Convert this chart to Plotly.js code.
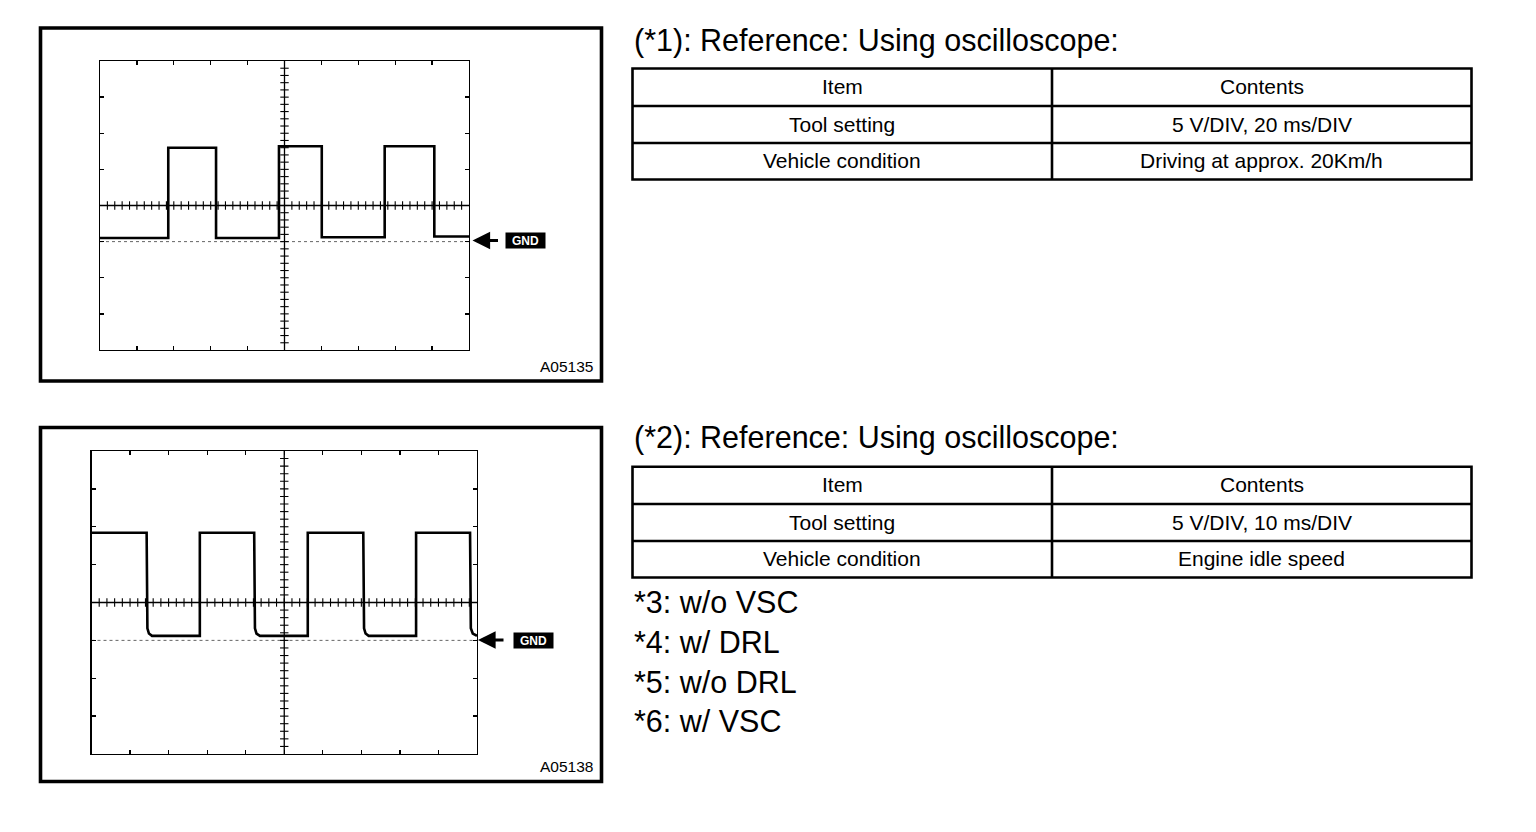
<!DOCTYPE html>
<html>
<head>
<meta charset="utf-8">
<script src="https://cdn.plot.ly/plotly-3.0.1.min.js"></script>
<style>
  html, body { margin: 0; padding: 0; background: #ffffff; }
  #chart { width: 1536px; height: 832px; }
</style>
</head>
<body>
<div id="chart"></div>
<script>
// ---------------- Data ----------------
// Waveform 1 (*1): 5 V/DIV, 20 ms/DIV  (time in ms, voltage in V, ground = 0 V)
var wave1Time = [0, 37.0, 37.0, 62.9, 62.9, 97.0, 97.0, 120.2, 120.2, 154.3, 154.3, 181.2, 181.2, 200];
var wave1Volt = [0.5, 0.5, 13.0, 13.0, 0.5, 0.5, 13.2, 13.2, 0.6, 0.6, 13.2, 13.2, 0.7, 0.7];

// Waveform 2 (*2): 5 V/DIV, 10 ms/DIV
var wave2Time = [0, 14.3, 14.5, 14.9, 15.7, 28.1, 28.1, 42.2, 42.4, 42.8, 43.7, 56.1, 56.1, 70.5, 70.7, 71.1, 71.9, 84.2, 84.2, 98.2, 98.4, 98.9, 100];
var wave2Volt = [14.2, 14.2, 1.6, 0.9, 0.6, 0.6, 14.2, 14.2, 1.6, 0.9, 0.6, 0.6, 14.2, 14.2, 1.6, 0.9, 0.6, 0.6, 14.2, 14.2, 1.6, 0.9, 0.6];

// Screen settings
var voltRange = [-15, 25];          // 8 divisions of 5 V, ground 1 div below centre
var time1Range = [0, 200];          // 10 divisions of 20 ms
var time2Range = [0, 100];          // 10 divisions of 10 ms
var voltPerDiv = 5;
var time1PerDiv = 20;
var time2PerDiv = 10;

// Texts
var title1 = "(*1): Reference: Using oscilloscope:";
var title2 = "(*2): Reference: Using oscilloscope:";
var tableHeader = ["Item", "Contents"];
var table1Items = ["Tool setting", "Vehicle condition"];
var table1Contents = ["5 V/DIV, 20 ms/DIV", "Driving at approx. 20Km/h"];
var table2Items = ["Tool setting", "Vehicle condition"];
var table2Contents = ["5 V/DIV, 10 ms/DIV", "Engine idle speed"];
var footnotes = ["*3: w/o VSC", "*4: w/ DRL", "*5: w/o DRL", "*6: w/ VSC"];
var figCodes = ["A05135", "A05138"];
var groundLabel = "GND";

// ---------------- Layout helpers ----------------
var W = 1536, H = 832;
function fx(px) { return px / W; }
function fy(py) { return 1 - py / H; }
var FONT = "Liberation Sans, Arial, Helvetica, sans-serif";

// Scope screen pixel boxes
var scope1 = { l: 100, r: 469, t: 61, b: 350 };
var scope2 = { l: 91.5, r: 477, t: 451, b: 754 };

function graticuleTicks(xr, xdiv, yr, ydiv) {
  // small cross-hair tick marks every 1/5 division (graticule decoration)
  var cx = (xr[0] + xr[1]) / 2, cy = (yr[0] + yr[1]) / 2;
  var hx = [], hy = [], vx = [], vy = [];
  var nx = Math.round((xr[1] - xr[0]) / (xdiv / 5));
  for (var i = 1; i < nx; i++) { hx.push(xr[0] + i * xdiv / 5); hy.push(cy); }
  var ny = Math.round((yr[1] - yr[0]) / (ydiv / 5));
  for (var j = 1; j < ny; j++) { vy.push(yr[0] + j * ydiv / 5); vx.push(cx); }
  return { hx: hx, hy: hy, vx: vx, vy: vy, cx: cx, cy: cy };
}

var g1 = graticuleTicks(time1Range, time1PerDiv, voltRange, voltPerDiv);
var g2 = graticuleTicks(time2Range, time2PerDiv, voltRange, voltPerDiv);

function tickTrace(xs, ys, sym, xa, ya) {
  return {
    x: xs, y: ys, xaxis: xa, yaxis: ya, mode: "markers", type: "scatter",
    hoverinfo: "skip", showlegend: false,
    marker: { symbol: sym, size: 6, color: "#000", line: { width: 1.1, color: "#000" } }
  };
}

var traces = [
  // ground reference dotted lines
  { x: time1Range, y: [0, 0], xaxis: "x", yaxis: "y", mode: "lines", type: "scatter",
    line: { color: "#666", width: 1, dash: "dot" }, hoverinfo: "skip", showlegend: false },
  { x: time2Range, y: [0, 0], xaxis: "x2", yaxis: "y2", mode: "lines", type: "scatter",
    line: { color: "#666", width: 1, dash: "dot" }, hoverinfo: "skip", showlegend: false },
  tickTrace(g1.hx, g1.hy, "line-ns", "x", "y"),
  tickTrace(g1.vx, g1.vy, "line-ew", "x", "y"),
  tickTrace(g2.hx, g2.hy, "line-ns", "x2", "y2"),
  tickTrace(g2.vx, g2.vy, "line-ew", "x2", "y2"),
  // waveforms
  { x: wave1Time, y: wave1Volt, xaxis: "x", yaxis: "y", mode: "lines", type: "scatter",
    line: { color: "#000", width: 2.6 }, hoverinfo: "skip", showlegend: false },
  { x: wave2Time, y: wave2Volt, xaxis: "x2", yaxis: "y2", mode: "lines", type: "scatter",
    line: { color: "#000", width: 2.6 }, hoverinfo: "skip", showlegend: false }
];

function scopeAxis(range, dtick, dom) {
  return {
    domain: dom, range: range, dtick: dtick, tick0: range[0],
    showgrid: false, zeroline: false, showticklabels: false,
    showline: true, linecolor: "#000", linewidth: 1.3, mirror: "ticks",
    ticks: "inside", ticklen: 4, tickwidth: 1.3, tickcolor: "#000", fixedrange: true
  };
}

var shapes = [];
var annotations = [];

function line(x0, y0, x1, y1, w) {
  shapes.push({ type: "line", xref: "paper", yref: "paper",
    x0: fx(x0), y0: fy(y0), x1: fx(x1), y1: fy(y1), line: { color: "#000", width: w } });
}
function rect(x0, y0, x1, y1, w) {
  shapes.push({ type: "rect", xref: "paper", yref: "paper",
    x0: fx(x0), y0: fy(y0), x1: fx(x1), y1: fy(y1), line: { color: "#000", width: w }, fillcolor: "rgba(0,0,0,0)" });
}
function text(t, x, y, size, xanchor) {
  annotations.push({ text: t, xref: "paper", yref: "paper", x: fx(x), y: fy(y),
    xanchor: xanchor || "center", yanchor: "middle", showarrow: false,
    font: { family: FONT, size: size, color: "#000" } });
}

// Outer frames
rect(40.5, 28, 601.5, 381, 3.6);
rect(40.5, 427.5, 601.5, 781.5, 3.6);

// centre cross-hair lines (axis referenced)
shapes.push({ type: "line", xref: "x", yref: "y domain", x0: g1.cx, x1: g1.cx, y0: 0, y1: 1, line: { color: "#000", width: 1.3 } });
shapes.push({ type: "line", xref: "x domain", yref: "y", x0: 0, x1: 1, y0: g1.cy, y1: g1.cy, line: { color: "#000", width: 1.3 } });
shapes.push({ type: "line", xref: "x2", yref: "y2 domain", x0: g2.cx, x1: g2.cx, y0: 0, y1: 1, line: { color: "#000", width: 1.3 } });
shapes.push({ type: "line", xref: "x2 domain", yref: "y2", x0: 0, x1: 1, y0: g2.cy, y1: g2.cy, line: { color: "#000", width: 1.3 } });

// Tables
function table(top, rows, items, contents) {
  var L = 632.5, R = 1471.5, C = 1052;
  var bottom = rows[rows.length - 1];
  rect(L, top, R, bottom, 2.6);
  line(C, top, C, bottom, 2.6);
  for (var i = 0; i < rows.length - 1; i++) line(L, rows[i], R, rows[i], 2.6);
  var edges = [top].concat(rows);
  var left = [tableHeader[0]].concat(items);
  var right = [tableHeader[1]].concat(contents);
  for (var k = 0; k < 3; k++) {
    var cy = (edges[k] + edges[k + 1]) / 2 - 0.5;
    text(left[k], (L + C) / 2, cy, 21);
    text(right[k], (C + R) / 2, cy, 21);
  }
}
table(68.5, [106, 143, 179.5], table1Items, table1Contents);
table(466.7, [504, 541, 577.5], table2Items, table2Contents);

text(title1, 632, 40.5, 30.5, "left");
text(title2, 632, 437.5, 30.5, "left");
var footY = [601.5, 641.5, 681.5, 720.5];
for (var f = 0; f < footnotes.length; f++) text(footnotes[f], 632, footY[f], 30.5, "left");

// figure codes
text(figCodes[0], 594.5, 366, 15.5, "right");
text(figCodes[1], 594.5, 766, 15.5, "right");

// ground arrows + labels
function groundMark(tipPx, labelPx, rowPy) {
  annotations.push({ xref: "paper", yref: "paper", x: fx(tipPx), y: fy(rowPy),
    ax: 27, ay: 0, axref: "pixel", ayref: "pixel", text: "", showarrow: true,
    arrowhead: 2, arrowsize: 1.1, arrowwidth: 3.2, arrowcolor: "#000", standoff: 0 });
  annotations.push({ xref: "paper", yref: "paper", x: fx(labelPx), y: fy(rowPy),
    xanchor: "left", yanchor: "middle", showarrow: false, text: "<b>" + groundLabel + "</b>",
    bgcolor: "#000", width: 37, height: 13, borderpad: 1,
    font: { family: FONT, size: 12, color: "#fff" } });
}
groundMark(472.5, 505, 240.5);
groundMark(478, 513, 640);

var layout = {
  width: W, height: H,
  margin: { l: 0, r: 0, t: 0, b: 0 },
  paper_bgcolor: "#fff", plot_bgcolor: "rgba(0,0,0,0)",
  showlegend: false, hovermode: false,
  xaxis: Object.assign(scopeAxis(time1Range, time1PerDiv, [fx(scope1.l), fx(scope1.r)]), { anchor: "y" }),
  yaxis: Object.assign(scopeAxis(voltRange, voltPerDiv, [fy(scope1.b), fy(scope1.t)]), { anchor: "x" }),
  xaxis2: Object.assign(scopeAxis(time2Range, time2PerDiv, [fx(scope2.l), fx(scope2.r)]), { anchor: "y2" }),
  yaxis2: Object.assign(scopeAxis(voltRange, voltPerDiv, [fy(scope2.b), fy(scope2.t)]), { anchor: "x2" }),
  shapes: shapes,
  annotations: annotations
};

Plotly.newPlot("chart", traces, layout, { staticPlot: true, displayModeBar: false });
</script>
</body>
</html>
